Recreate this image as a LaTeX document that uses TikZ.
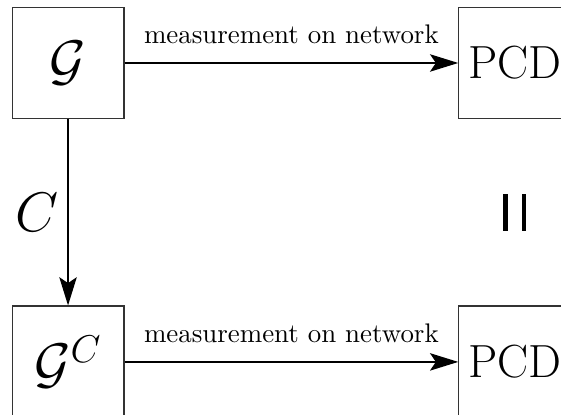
\documentclass[tikz,border=0pt]{standalone}
\usepackage{amsmath,amssymb}
\usetikzlibrary{arrows.meta,positioning}
\tikzset{
  netbox/.style={draw=black!80,line width=0.45pt,minimum size=1.46cm,
                 inner sep=0pt,font=\huge},
  pcdbox/.style={draw=black!80,line width=0.45pt,minimum size=1.46cm,
                 inner sep=0pt,font=\LARGE},
  measarr/.style={-{Stealth[length=10.5pt,width=6.5pt,inset=2.2pt]},line width=0.45pt},
  measlabel/.style={above=3.4pt,font=\normalsize},
  eqbar/.style={line width=1.6pt}
}
\begin{document}
\begin{tikzpicture}
  \useasboundingbox (0,0) rectangle (7.33,-5.41);
  \clip (0,0) rectangle (7.33,-5.41);
  % graphs
  \node[netbox] (G) at (0.889,-0.823) {$\mathcal{G}$};
  \node[netbox,below=2.43cm of G] (GC) {$\mathcal{G}^C$};
  % persistence diagrams
  \node[pcdbox,right=4.36cm of G] (pcdtop) {PCD};
  \node[pcdbox,right=4.36cm of GC] (pcdbot) {PCD};
  % arrows
  \draw[measarr] (G) -- node[measlabel] {measurement on network} (pcdtop);
  \draw[measarr] (GC) -- node[measlabel] {measurement on network} (pcdbot);
  \draw[measarr] (G) -- node[left=0pt,font=\huge] {$C$} (GC);
  % rotated equals sign
  \path (pcdtop) -- coordinate[midway] (eq) (pcdbot);
  \draw[eqbar] ([xshift=-0.12cm,yshift=0.24cm]eq) -- ++(0,-0.48);
  \draw[eqbar] ([xshift=0.125cm,yshift=0.24cm]eq) -- ++(0,-0.48);
\end{tikzpicture}
\end{document}
